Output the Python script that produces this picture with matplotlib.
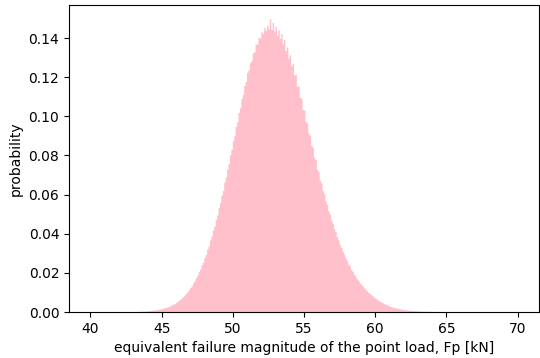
import numpy as np
import matplotlib
matplotlib.use("Agg")
import matplotlib.pyplot as plt

# Histogram: bins of width 0.1 spanning 40..70
bin_start = 40.0
bin_stop = 70.0
bin_width = 0.1
first_nonzero_left = 43.4
density = [
    0.0002, 0.0001, 0.0002, 0.0003, 0.0002, 0.0003,
    0.0004, 0.0005, 0.0005, 0.0006, 0.0007, 0.0008, 0.0009, 0.0010, 0.0011, 0.0013,
    0.0015, 0.0017, 0.0019, 0.0021, 0.0024, 0.0026, 0.0030, 0.0033, 0.0037, 0.0041,
    0.0046, 0.0051, 0.0056, 0.0062, 0.0069, 0.0076, 0.0084, 0.0092, 0.0101, 0.0111,
    0.0123, 0.0131, 0.0146, 0.0157, 0.0173, 0.0185, 0.0204, 0.0216, 0.0238, 0.0252,
    0.0276, 0.0293, 0.0318, 0.0336, 0.0366, 0.0386, 0.0417, 0.0437, 0.0471, 0.0494,
    0.0531, 0.0556, 0.0595, 0.0619, 0.0661, 0.0688, 0.0729, 0.0756, 0.0801, 0.0828,
    0.0872, 0.0899, 0.0946, 0.0970, 0.1018, 0.1041, 0.1089, 0.1110, 0.1156, 0.1176,
    0.1222, 0.1235, 0.1272, 0.1283, 0.1322, 0.1328, 0.1366, 0.1368, 0.1402, 0.1397,
    0.1431, 0.1421, 0.1452, 0.1437, 0.1463, 0.1446, 0.1497, 0.1442, 0.1478, 0.1433,
    0.1458, 0.1412, 0.1440, 0.1396, 0.1421, 0.1368, 0.1390, 0.1334, 0.1352, 0.1295,
    0.1312, 0.1255, 0.1268, 0.1209, 0.1212, 0.1150, 0.1153, 0.1094, 0.1091, 0.1034,
    0.1030, 0.0973, 0.0965, 0.0911, 0.0902, 0.0849, 0.0839, 0.0788, 0.0776, 0.0728,
    0.0716, 0.0672, 0.0658, 0.0617, 0.0602, 0.0565, 0.0549, 0.0514, 0.0499, 0.0467,
    0.0452, 0.0423, 0.0408, 0.0381, 0.0367, 0.0342, 0.0329, 0.0307, 0.0294, 0.0274,
    0.0262, 0.0243, 0.0233, 0.0215, 0.0206, 0.0190, 0.0181, 0.0167, 0.0160, 0.0147,
    0.0140, 0.0131, 0.0122, 0.0114, 0.0106, 0.0099, 0.0093, 0.0086, 0.0080, 0.0074,
    0.0068, 0.0063, 0.0058, 0.0053, 0.0049, 0.0045, 0.0041, 0.0037, 0.0034, 0.0031,
    0.0028, 0.0025, 0.0023, 0.0021, 0.0019, 0.0017, 0.0016, 0.0014, 0.0013, 0.0011,
    0.0010, 0.0009, 0.0008, 0.0007, 0.0007, 0.0006, 0.0005, 0.0005, 0.0004, 0.0004,
    0.0003, 0.0003, 0.0003, 0.0002, 0.0002, 0.0002, 0.0001, 0.0001, 0.0001, 0.0001,
    0.0, 0.0, 0.0001, 0.0, 0.0001,
]
x_label = "equivalent failure magnitude of the point load, Fp [kN]"
y_label = "probability"

n_bins = int(round((bin_stop - bin_start) / bin_width))
edges = np.linspace(bin_start, bin_stop, n_bins + 1)
centers = (edges[:-1] + edges[1:]) / 2
weights = np.zeros(n_bins)
i0 = int(round((first_nonzero_left - bin_start) / bin_width))
weights[i0:i0 + len(density)] = density

plt.rcParams.update({
    "font.family": "DejaVu Sans",
    "font.size": 10,
    "axes.linewidth": 0.8,
})

fig = plt.figure(figsize=(5.40, 3.58), dpi=100)
ax = fig.add_axes([69 / 540, 46 / 358, 470 / 540, 307.5 / 358])
ax.hist(centers, bins=edges, weights=weights, color="pink", histtype="stepfilled")
ax.set_xlabel(x_label)
ax.set_ylabel(y_label)
fig.savefig("out.png", dpi=100)
